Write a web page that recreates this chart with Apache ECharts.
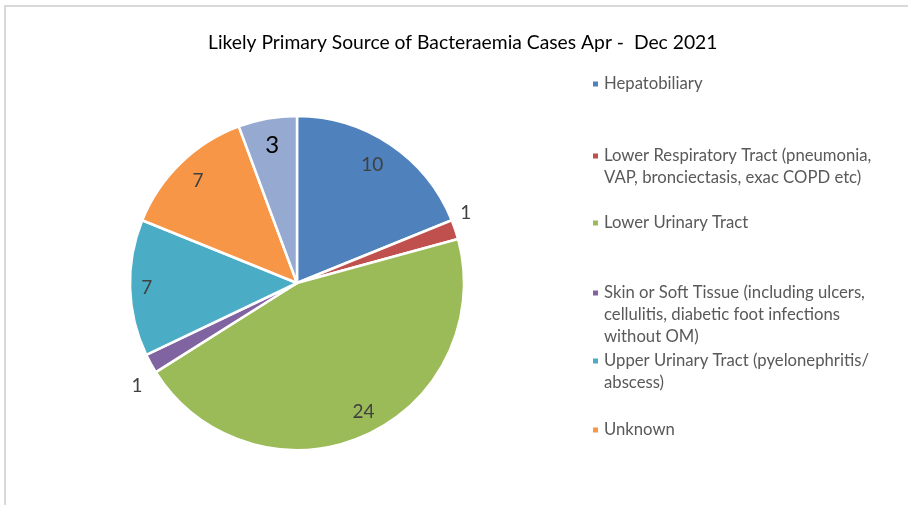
<!DOCTYPE html>
<html>
<head>
<meta charset="utf-8">
<script src="https://cdn.jsdelivr.net/npm/echarts@6/dist/echarts.min.js"></script>
<style>
  html, body { margin: 0; padding: 0; background: #fff; }
  #frame {
    position: absolute; left: 4px; top: 5px; width: 910px; height: 510px;
    border-left: 2px solid #d9d9d9; border-top: 2px solid #d9d9d9;
  }
  #chart { position: absolute; left: 0; top: 0; width: 908px; height: 505px; }
</style>
</head>
<body>
<div id="frame"></div>
<div id="chart"></div>
<script>
const categories = [
  'Hepatobiliary',
  'Lower Respiratory Tract (pneumonia, VAP, bronciectasis, exac COPD etc)',
  'Lower Urinary Tract',
  'Skin or Soft Tissue (including ulcers, cellulitis, diabetic foot infections without OM)',
  'Upper Urinary Tract (pyelonephritis/ abscess)',
  'Unknown',
  'Other'
];
const values = [10, 1, 24, 1, 7, 7, 3];
const colors = ['#4f81bd', '#c0504d', '#9bbb59', '#8064a2', '#4bacc6', '#f79646', '#95a9d1'];

// wrapped legend text, as in the original
const legendLines = [
  ['Hepatobiliary'],
  ['Lower Respiratory Tract (pneumonia,', 'VAP, bronciectasis, exac COPD etc)'],
  ['Lower Urinary Tract'],
  ['Skin or Soft Tissue (including ulcers,', 'cellulitis, diabetic foot infections', 'without OM)'],
  ['Upper Urinary Tract (pyelonephritis/', 'abscess)'],
  ['Unknown']
];
const legendFirstLineY = [84, 156, 223, 293, 361, 430];

const cx = 297, cy = 283, R = 167;
const lh = 22;
const total = values.reduce((a, b) => a + b, 0);
// label distance from centre (share of radius) and small angle nudges (deg)
const labelRadius = [0.84, 1.095, 0.87, 1.14, 0.9, 0.85, 0.84];
const labelShift = [-1.5, -4, -3.5, -4, 0, 0, 0];

const chart = echarts.init(document.getElementById('chart'));

// icon sits at the middle of the text block, so pad the top with empty
// lines to keep the marker level with the first line
const legends = legendLines.map((lines, i) => {
  const n = lines.length;
  const pad = new Array(n - 1).fill('');
  const txt = pad.concat(lines).join('\n');
  return {
    data: [categories[i]],
    orient: 'vertical',
    left: 591,
    top: legendFirstLineY[i] - (2 * n - 1) * lh / 2,
    padding: 0,
    icon: 'rect',
    itemWidth: 7,
    itemHeight: 7,
    selectedMode: false,
    formatter: () => txt,
    textStyle: {
      fontFamily: 'Lato',
      fontSize: 16.7,
      color: '#595959',
      lineHeight: lh
    }
  };
});

chart.setOption({
  animation: false,
  color: colors,
  title: {
    text: 'Likely Primary Source of Bacteraemia Cases Apr -  Dec 2021',
    left: 203,
    top: 28,
    textStyle: {
      fontFamily: 'Lato',
      fontWeight: 'normal',
      fontSize: 19.3,
      color: '#000'
    }
  },
  legend: legends,
  series: [{
    type: 'pie',
    center: [cx, cy],
    radius: [0, R],
    startAngle: 90,
    clockwise: true,
    itemStyle: { borderColor: '#fff', borderWidth: 2.5 },
    emphasis: { disabled: true },
    label: {
      show: true,
      position: 'inside',
      formatter: '{c}',
      fontFamily: 'Lato',
      fontSize: 19,
      color: '#404040'
    },
    labelLine: { show: false },
    labelLayout: (params) => {
      const i = params.dataIndex;
      let before = 0;
      for (let k = 0; k < i; k++) before += values[k];
      const mid = (before + values[i] / 2) / total * Math.PI * 2 + labelShift[i] * Math.PI / 180;
      const r = R * labelRadius[i];
      return {
        x: cx + Math.sin(mid) * r,
        y: cy - Math.cos(mid) * r,
        align: 'center',
        verticalAlign: 'middle'
      };
    },
    data: categories.map((name, i) => {
      const d = { name: name, value: values[i] };
      if (i === 6) d.label = { fontSize: 24, color: '#000' };
      return d;
    })
  }]
});
</script>
</body>
</html>
